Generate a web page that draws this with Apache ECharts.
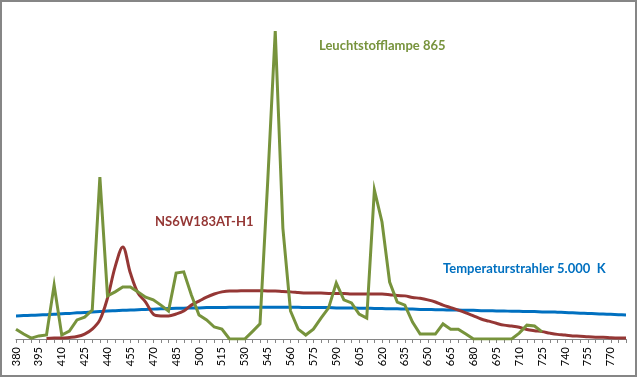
<!DOCTYPE html>
<html>
<head>
<meta charset="utf-8">
<script src="https://cdn.jsdelivr.net/npm/echarts@6/dist/echarts.min.js"></script>
<style>
html,body{margin:0;padding:0;background:#fff;}
#chart{width:639px;height:378px;}
</style>
</head>
<body>
<div id="chart"></div>
<script>
// Wavelengths (nm), 380..780 in 5 nm steps
const wavelengths = [];
for (let w = 380; w <= 780; w += 5) wavelengths.push(String(w));

const seriesNames = ['Leuchtstofflampe 865', 'NS6W183AT-H1', 'Temperaturstrahler 5.000  K'];

// Relative spectral intensity
const leuchtstofflampe = [
  3.2, 1.6, 0.3, 1.0, 1.3, 17.5, 1.3, 2.6, 6.2, 7.1,
  9.4, 52.6, 14.0, 15.3, 16.9, 16.9, 15.3, 13.6, 12.7, 11.0,
  9.1, 21.4, 21.8, 14.3, 7.8, 6.2, 3.9, 3.2, 0, 0,
  0, 2.4, 4.9, 50.6, 100, 36.0, 9.1, 3.2, 1.3, 3.2,
  6.8, 10.1, 18.2, 12.7, 11.7, 8.1, 6.8, 48.4, 38.0, 18.5,
  12.0, 11.0, 5.5, 1.6, 1.6, 1.6, 4.9, 3.2, 3.2, 1.6,
  0, 0, 0, 0, 0, 0, 1.9, 4.5, 4.2, 2.3,
  null, null, null, null, null, null, null, null, null, null, null
];

const ns6w183 = [
  null, null, null, null, 0.2, 0.3, 0.3, 0.5, 0.8, 1.6,
  3.2, 6.2, 13.3, 23.4, 29.9, 21.4, 14.9, 12.0, 8.1, 7.5,
  7.5, 8.1, 9.1, 11.0, 12.3, 13.6, 14.6, 15.3, 15.6, 15.6,
  15.7, 15.7, 15.7, 15.6, 15.6, 15.4, 15.3, 15.1, 14.9, 14.9,
  14.9, 14.8, 14.8, 14.8, 14.6, 14.6, 14.6, 14.6, 14.6, 14.4,
  14.1, 14.0, 13.5, 13.2, 12.7, 12.0, 11.0, 10.2, 9.4, 8.5,
  7.5, 6.5, 5.8, 5.1, 4.5, 4.2, 3.8, 3.1, 2.7, 2.4,
  1.9, 1.5, 1.3, 1.0, 0.9, 0.7, 0.6, 0.6, 0.4, 0.3, 0.3
];

const temperaturstrahler = [
  7.5, 7.6, 7.7, 7.8, 7.9, 8.0, 8.2, 8.3, 8.5, 8.6,
  8.8, 8.9, 9.1, 9.2, 9.3, 9.4, 9.5, 9.6, 9.7, 9.8,
  9.9, 10.0, 10.0, 10.1, 10.1, 10.2, 10.2, 10.2, 10.3, 10.3,
  10.3, 10.3, 10.3, 10.3, 10.3, 10.3, 10.3, 10.3, 10.2, 10.2,
  10.2, 10.2, 10.1, 10.1, 10.1, 10.0, 10.0, 9.9, 9.9, 9.8,
  9.8, 9.7, 9.7, 9.6, 9.6, 9.5, 9.5, 9.4, 9.4, 9.3,
  9.3, 9.2, 9.2, 9.1, 9.1, 9.0, 9.0, 8.9, 8.9, 8.8,
  8.8, 8.7, 8.6, 8.5, 8.4, 8.3, 8.2, 8.1, 8.0, 7.9, 7.8
];

const colors = ['#77933C', '#953735', '#0070C0'];

const chart = echarts.init(document.getElementById('chart'), null, {renderer: 'canvas'});
const labelFont = 'Lato, "Open Sans", sans-serif';

chart.setOption({
  animation: false,
  backgroundColor: '#ffffff',
  grid: {left: 16, right: 13, top: 31, bottom: 39, containLabel: false},
  xAxis: {
    type: 'category',
    data: wavelengths,
    boundaryGap: false,
    axisLine: {show: true, lineStyle: {color: '#868686', width: 1}},
    axisTick: {show: true, interval: 0, length: 4, lineStyle: {color: '#868686'}},
    axisLabel: {
      interval: 2, rotate: 90, margin: 8,
      fontFamily: labelFont, fontSize: 11, color: '#000'
    },
    splitLine: {show: false}
  },
  yAxis: {
    type: 'value', min: 0, max: 100, show: false,
    splitLine: {show: false}
  },
  series: [
    {
      name: seriesNames[2], type: 'line', data: temperaturstrahler,
      showSymbol: false, smooth: 0.3,
      lineStyle: {color: colors[2], width: 3}, itemStyle: {color: colors[2]}
    },
    {
      name: seriesNames[1], type: 'line', data: ns6w183,
      showSymbol: false, smooth: 0.35,
      lineStyle: {color: colors[1], width: 3}, itemStyle: {color: colors[1]}
    },
    {
      name: seriesNames[0], type: 'line', data: leuchtstofflampe,
      showSymbol: false, smooth: false,
      lineStyle: {color: colors[0], width: 3, join: 'miter'}, itemStyle: {color: colors[0]}
    }
  ],
  graphic: [
    {type: 'rect', silent: true, shape: {x: 1, y: 1, width: 635, height: 375},
     style: {fill: 'none', stroke: '#868686', lineWidth: 2}},
    {type: 'text', left: 319, top: 39, silent: true,
     style: {text: seriesNames[0], fill: colors[0], font: 'bold 13px ' + labelFont}},
    {type: 'text', left: 155, top: 215, silent: true,
     style: {text: seriesNames[1], fill: colors[1], font: 'bold 13px ' + labelFont}},
    {type: 'text', left: 443, top: 262, silent: true,
     style: {text: seriesNames[2], fill: colors[2], font: 'bold 13px ' + labelFont}}
  ]
});
</script>
</body>
</html>
